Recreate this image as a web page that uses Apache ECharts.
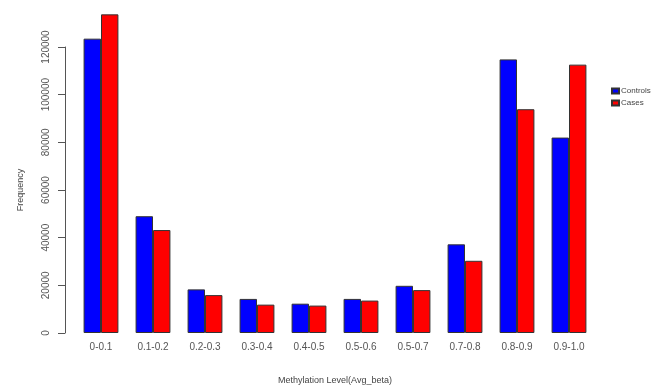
<!DOCTYPE html>
<html>
<head>
<meta charset="utf-8">
<script src="https://cdn.jsdelivr.net/npm/echarts@6/dist/echarts.min.js"></script>
<style>
  html, body { margin: 0; padding: 0; background: #fff; }
  #chart { width: 665px; height: 387px; }
</style>
</head>
<body>
<div id="chart"></div>
<script>
// bins of avg beta (labels as printed on the figure)
var categories = ['0-0.1', '0.1-0.2', '0.2-0.3', '0.3-0.4', '0.4-0.5', '0.5-0.6', '0.5-0.7', '0.7-0.8', '0.8-0.9', '0.9-1.0']
var controls = [123500, 49000, 18300, 14300, 12300, 14300, 19800, 37200, 114800, 82000]
var cases = [133700, 43200, 15900, 11900, 11500, 13600, 18000, 30300, 93900, 112600]

var chart = echarts.init(document.getElementById('chart'))

var option = {
  animation: false,
  textStyle: { fontFamily: 'Liberation Sans, Arial, sans-serif' },
  legend: {
    orient: 'vertical',
    left: 606,
    top: 82,
    itemWidth: 7,
    itemHeight: 5,
    itemGap: 4,
    icon: 'rect',
    textStyle: { fontSize: 8, color: '#444', padding: [0, 0, 0, -3] },
    data: ['Controls', 'Cases']
  },
  grid: {
    left: 75,
    right: 70,
    top: 47,
    bottom: 54,
    containLabel: false,
    outerBoundsMode: 'none'
  },
  xAxis: {
    type: 'category',
    data: categories,
    name: 'Methylation Level(Avg_beta)',
    nameLocation: 'middle',
    nameGap: 43,
    nameTextStyle: { fontSize: 9, color: '#444' },
    axisLine: { show: false },
    axisTick: { show: false },
    axisLabel: { fontSize: 10, color: '#555', margin: 9 }
  },
  yAxis: {
    type: 'value',
    min: 0,
    max: 120000,
    interval: 20000,
    offset: 10,
    name: 'Frequency',
    nameLocation: 'middle',
    nameGap: 40,
    nameTextStyle: { fontSize: 9, color: '#444' },
    splitLine: { show: false },
    axisLine: { show: true, lineStyle: { color: '#555', width: 1 } },
    axisTick: { show: true, length: 7, lineStyle: { color: '#555' } },
    axisLabel: {
      fontSize: 10,
      color: '#555',
      rotate: 90,
      margin: 14,
      formatter: function (v) { return String(v) }
    }
  },
  series: [
    {
      name: 'Controls',
      type: 'bar',
      data: controls,
      clip: false,
      barGap: '0%',
      barCategoryGap: '33%',
      itemStyle: { color: '#0000ff', borderColor: '#333', borderWidth: 1 }
    },
    {
      name: 'Cases',
      type: 'bar',
      data: cases,
      clip: false,
      itemStyle: { color: '#ff0000', borderColor: '#333', borderWidth: 1 }
    }
  ]
}
chart.setOption(option)
</script>
</body>
</html>
